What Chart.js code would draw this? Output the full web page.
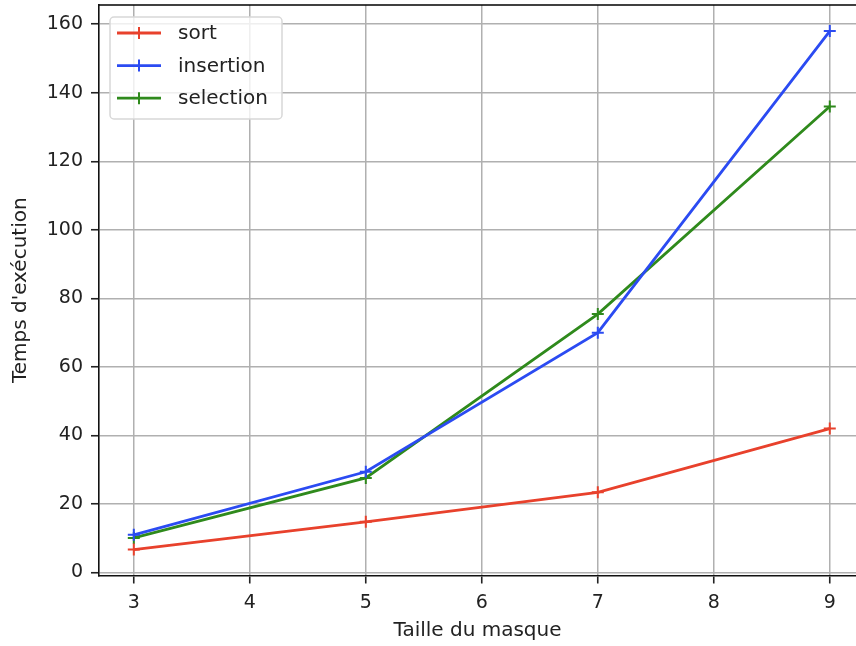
<!DOCTYPE html>
<html><head><meta charset="utf-8">
<script src="https://cdn.jsdelivr.net/npm/chart.js@4.4.0/dist/chart.umd.min.js"></script>
<style>html,body{margin:0;padding:0;background:#fff;overflow:hidden}#wrap{width:856px;height:646px;overflow:hidden;position:relative}#c{position:absolute;left:0;top:-3px}</style>
</head><body><div id="wrap"><canvas id="c" width="864" height="649"></canvas></div>
<script>
const xValues = [3, 5, 7, 9];
const sortValues = [6.7, 14.8, 23.4, 42.0];
const insertionValues = [11.0, 29.4, 70.0, 158.0];
const selectionValues = [10.1, 27.6, 75.4, 136.0];
const seriesNames = ['sort', 'insertion', 'selection'];
const seriesColors = ['#e8412c', '#2b4bf2', '#2f8a1c'];
const xTickValues = [3, 4, 5, 6, 7, 8, 9];
const yTickValues = [0, 20, 40, 60, 80, 100, 120, 140, 160];
const xTitle = 'Taille du masque';
const yTitle = "Temps d'exécution";

const FONT = "'DejaVu Sans', sans-serif";
const allSeries = [sortValues, insertionValues, selectionValues];

const datasets = allSeries.map((vals, i) => ({
  label: seriesNames[i],
  data: vals.map((v, j) => ({x: xValues[j], y: v})),
  borderColor: seriesColors[i],
  backgroundColor: seriesColors[i],
  borderWidth: 2.8,
  pointStyle: 'cross',
  pointRadius: 6,
  pointBorderWidth: 2,
  pointHoverRadius: 6,
  tension: 0,
  fill: false
}));

const frame = {
  id: 'frame',
  afterDraw(chart) {
    const {ctx, chartArea: a} = chart;
    ctx.save();
    ctx.strokeStyle = '#000';
    ctx.lineWidth = 1.6;
    ctx.beginPath();
    ctx.moveTo(a.left, a.top);
    ctx.lineTo(chart.width, a.top);
    ctx.stroke();
    // legend (canvas is shifted up by 3px)
    const off = 3;
    const bx = 110, by = 17 + off, bw = 172, bh = 102;
    ctx.fillStyle = 'rgba(255,255,255,0.8)';
    ctx.strokeStyle = '#d8d8d8';
    ctx.lineWidth = 1.5;
    ctx.beginPath();
    if (ctx.roundRect) ctx.roundRect(bx, by, bw, bh, 4); else ctx.rect(bx, by, bw, bh);
    ctx.fill();
    ctx.stroke();
    ctx.font = '20px ' + FONT;
    ctx.textBaseline = 'middle';
    chart.data.datasets.forEach((ds, i) => {
      const y = 33 + off + i * 32.6;
      ctx.strokeStyle = ds.borderColor;
      ctx.lineWidth = 2.8;
      ctx.beginPath();
      ctx.moveTo(117, y); ctx.lineTo(161, y);
      ctx.stroke();
      ctx.lineWidth = 2;
      ctx.beginPath();
      ctx.moveTo(139, y - 6); ctx.lineTo(139, y + 6);
      ctx.stroke();
      ctx.fillStyle = '#222';
      ctx.fillText(ds.label, 178, y + 1);
    });
    ctx.restore();
  }
};

new Chart(document.getElementById('c'), {
  type: 'line',
  data: {datasets},
  options: {
    responsive: false,
    animation: false,
    events: [],
    layout: {padding: {top: 0, right: 0, left: 0, bottom: 0}},
    plugins: {legend: {display: false}, tooltip: {enabled: false}},
    scales: {
      x: {
        type: 'linear',
        min: 2.7,
        max: 9.226,
        afterBuildTicks: s => { s.ticks = xTickValues.map(v => ({value: v})); },
        afterFit: s => { s.height = 70.5; s.paddingLeft = 0; s.paddingRight = 0; },
        grid: {color: '#b0b0b0', lineWidth: 1.5, tickColor: '#222', tickWidth: 1.6, tickLength: 8, drawTicks: true},
        border: {color: '#111', width: 1.6},
        ticks: {color: '#222', font: {family: FONT, size: 19}, padding: 8, maxRotation: 0, autoSkip: false},
        title: {display: true, text: xTitle, color: '#222', font: {family: FONT, size: 20}, padding: {top: 4, bottom: 3}}
      },
      y: {
        type: 'linear',
        min: -0.87,
        max: 165.6,
        afterBuildTicks: s => { s.ticks = yTickValues.map(v => ({value: v})); },
        afterFit: s => { s.width = 99; s.paddingTop = 0; s.paddingBottom = 0; },
        grid: {color: '#b0b0b0', lineWidth: 1.5, tickColor: '#222', tickWidth: 1.6, tickLength: 8, drawTicks: true},
        border: {color: '#111', width: 1.6},
        ticks: {color: '#222', font: {family: FONT, size: 19}, padding: 8, autoSkip: false},
        title: {display: true, text: yTitle, color: '#222', font: {family: FONT, size: 20}, padding: {top: 9, bottom: 0}}
      }
    }
  },
  plugins: [frame]
});
</script></body></html>
